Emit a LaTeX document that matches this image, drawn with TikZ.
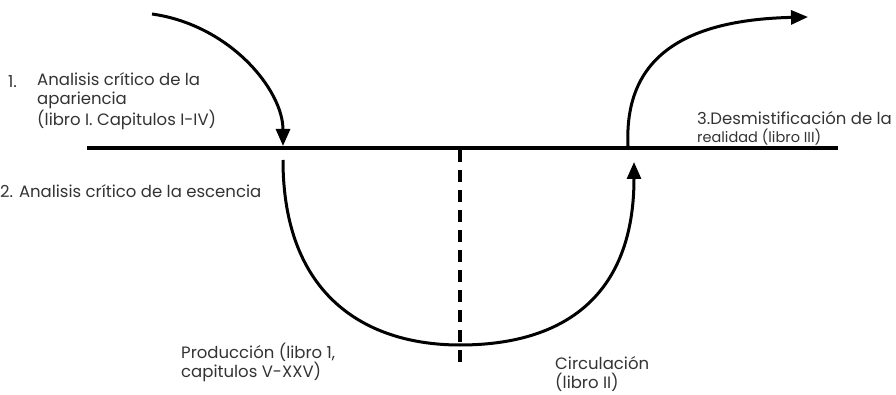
\documentclass[tikz,border=0pt]{standalone}
\usepackage{fontspec}
\setmainfont{Poppins}
\usetikzlibrary{arrows.meta}
\begin{document}
\begin{tikzpicture}[x=1pt,y=-1pt,
  lbl/.style={anchor=west,inner sep=0pt,font=\fontsize{16.5}{19}\selectfont,text=black!80,align=left},
  small/.style={anchor=west,inner sep=0pt,font=\fontsize{14.5}{15}\selectfont,text=black!80},
  flow/.style={line width=3pt,-{Triangle[length=17pt,width=14pt]}},
  plain/.style={line width=3pt}]
\useasboundingbox (0,0) rectangle (896,395);
\coordinate (L) at (87,148);
\coordinate (R) at (838,148);
\draw[line width=3.2pt] (L) -- (R);
\coordinate (dtop) at (460,150);
\coordinate (dbot) at (460,366);
\draw[line width=3.2pt,dash pattern=on 12pt off 8pt] (dtop) -- (dbot);
% arrow 1
\coordinate (a1s) at (152,14);
\coordinate (a1e) at (283,146);
\draw[flow] (a1s) .. controls (230,25) and (283,90) .. (a1e);
% U arrow
\coordinate (us) at (283,160);
\coordinate (ub) at (460,345);
\coordinate (ue) at (634,162);
\draw[plain] (us) .. controls (283,295) and (365,345) .. (ub);
\draw[flow] (ub) .. controls (565,345) and (634,295) .. (ue);
% arrow 3
\coordinate (a3s) at (628,146);
\coordinate (a3e) at (808,17);
\draw[flow] (a3s) .. controls (624,60) and (680,20) .. (a3e);
% texts
\node[lbl] (n1a) at (8,82) {1.};
\node[lbl] (t1) at (37,101) {Analisis crítico de la\\apariencia\\(libro I. Capitulos I-IV)};
\node[lbl] (t2) at (0,191) {2. Analisis crítico de la escencia};
\node[lbl] (t3) at (697,118) {3.Desmistificación de la};
\node[small] (t3b) at (697,137) {realidad (libro III)};
\node[lbl] (t4) at (181,362) {Producción (libro 1,\\capitulos V-XXV)};
\node[lbl] (t5) at (555,374) {Circulación\\(libro II)};
\end{tikzpicture}
\end{document}
